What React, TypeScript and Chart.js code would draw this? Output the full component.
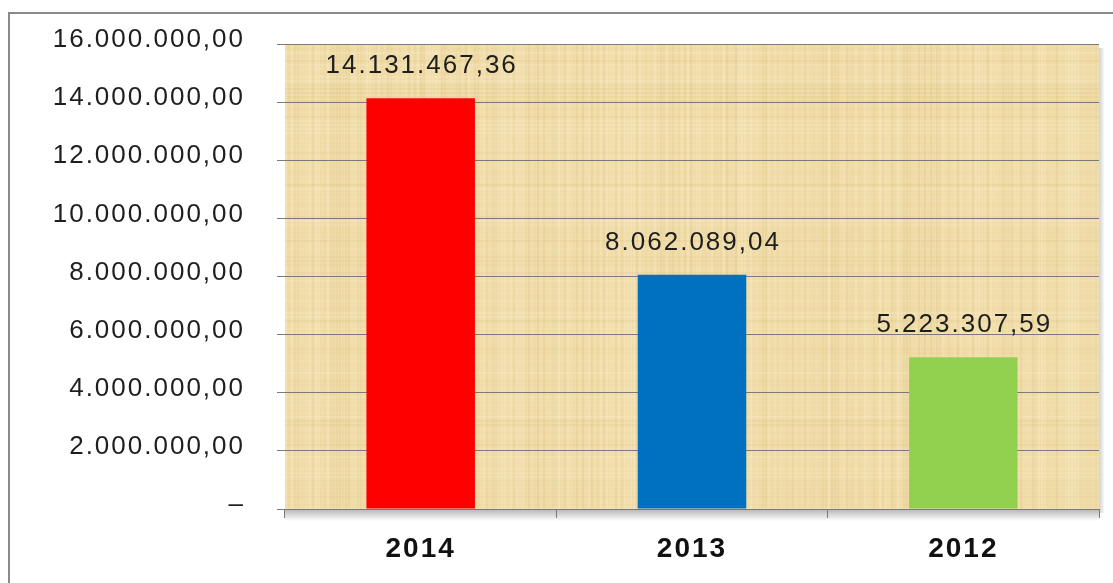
import React, { useEffect, useRef } from 'react';
import { Chart, registerables } from 'chart.js';

Chart.register(...registerables);

const categories = ['2014', '2013', '2012'];
const values = [14131467.36, 8062089.04, 5223307.59];
const barColors = ['#FF0000', '#0070C0', '#92D050'];
const yMin = 0;
const yMax = 16000000;
const yStep = 2000000;

const FONT = '"Liberation Sans", Arial, sans-serif';
const SPACING = '2px';

function fmt(v: number): string {
  if (v === 0) return '–';
  const [i, d] = v.toFixed(2).split('.');
  return i.replace(/\B(?=(\d{3})+(?!\d))/g, '.') + ',' + d;
}

function hash(n: number): number {
  const x = Math.sin(n * 12.9898 + 78.233) * 43758.5453;
  return x - Math.floor(x);
}

const decorPlugin = {
  id: 'decor',
  beforeDraw(chart: any) {
    const { ctx, chartArea: a, width, height } = chart;
    ctx.save();
    ctx.fillStyle = '#ffffff';
    ctx.fillRect(0, 0, width, height);
    ctx.strokeStyle = '#8a8a8a';
    ctx.lineWidth = 2;
    ctx.beginPath();
    ctx.moveTo(9, height + 5);
    ctx.lineTo(9, 13);
    ctx.lineTo(width + 5, 13);
    ctx.stroke();
    ctx.fillStyle = '#F0DCA8';
    ctx.fillRect(a.left, a.top, a.right - a.left, a.bottom - a.top);
    ctx.beginPath();
    ctx.rect(a.left, a.top, a.right - a.left, a.bottom - a.top);
    ctx.clip();
    for (let x = a.left; x < a.right; x += 3) {
      const h = hash(x);
      ctx.fillStyle = h > 0.5 ? `rgba(255,248,225,${(h - 0.5) * 0.5})` : `rgba(200,170,100,${(0.5 - h) * 0.3})`;
      ctx.fillRect(x, a.top, 2, a.bottom - a.top);
    }
    for (let y = a.top; y < a.bottom; y += 4) {
      const h = hash(y * 7.3 + 3);
      ctx.fillStyle = h > 0.5 ? `rgba(255,248,225,${(h - 0.5) * 0.35})` : `rgba(200,170,100,${(0.5 - h) * 0.25})`;
      ctx.fillRect(a.left, y, a.right - a.left, 2);
    }
    ctx.restore();
    ctx.save();
    const g = ctx.createLinearGradient(0, a.bottom, 0, a.bottom + 12);
    g.addColorStop(0, 'rgba(120,120,120,0.55)');
    g.addColorStop(1, 'rgba(120,120,120,0)');
    ctx.fillStyle = g;
    ctx.fillRect(a.left, a.bottom, a.right - a.left, 12);
    const g2 = ctx.createLinearGradient(a.right, 0, a.right + 6, 0);
    g2.addColorStop(0, 'rgba(120,120,120,0.35)');
    g2.addColorStop(1, 'rgba(120,120,120,0)');
    ctx.fillStyle = g2;
    ctx.fillRect(a.right, a.top + 4, 6, a.bottom - a.top);
    ctx.restore();
    (ctx as any).letterSpacing = SPACING;
  },
  afterDatasetsDraw(chart: any) {
    const { ctx } = chart;
    const meta = chart.getDatasetMeta(0);
    ctx.save();
    (ctx as any).letterSpacing = SPACING;
    ctx.font = `26px ${FONT}`;
    ctx.fillStyle = '#1e1e1e';
    ctx.textAlign = 'center';
    ctx.textBaseline = 'middle';
    meta.data.forEach((bar: any, i: number) => {
      ctx.fillText(fmt(values[i]), bar.x + 1, bar.y - 32);
    });
    ctx.restore();
  },
};

export default function App() {
  const ref = useRef<HTMLCanvasElement>(null);
  useEffect(() => {
    document.body.style.margin = '0';
    const chart = new Chart(ref.current!, {
      type: 'bar',
      data: {
        labels: categories,
        datasets: [
          {
            data: values,
            backgroundColor: barColors,
            borderWidth: 0,
            categoryPercentage: 1,
            barPercentage: 0.4,
          },
        ],
      },
      options: {
        animation: false,
        responsive: false,
        maintainAspectRatio: false,
        layout: { padding: { left: 0, right: 14, top: 44, bottom: 0 } },
        plugins: { legend: { display: false }, tooltip: { enabled: false } },
        scales: {
          x: {
            afterFit: (s: any) => { s.height = 74; s.paddingLeft = 0; s.paddingRight = 0; },
            grid: {
              offset: true,
              drawOnChartArea: false,
              drawTicks: true,
              tickLength: 9,
              color: '#7a7a7a',
            },
            border: { display: true, color: '#7a7a7a', width: 1 },
            ticks: {
              color: '#111',
              font: { family: FONT, size: 28, weight: 'bold' },
              padding: 14,
            },
          },
          y: {
            min: yMin,
            max: yMax,
            afterFit: (s: any) => { s.width = 285; s.paddingTop = 0; s.paddingBottom = 0; },
            grid: {
              color: '#7a7a7a',
              lineWidth: 1,
              drawTicks: true,
              tickLength: 8,
            },
            border: { display: false },
            ticks: {
              stepSize: yStep,
              color: '#1e1e1e',
              font: { family: FONT, size: 26 },
              padding: 32,
              labelOffset: -4,
              callback: (v: any) => fmt(Number(v)),
            },
          },
        },
      },
      plugins: [decorPlugin],
    });
    return () => chart.destroy();
  }, []);
  return (
    <div style={{ width: 1113, height: 583 }}>
      <canvas ref={ref} width={1113} height={583} style={{ display: 'block' }} />
    </div>
  );
}
